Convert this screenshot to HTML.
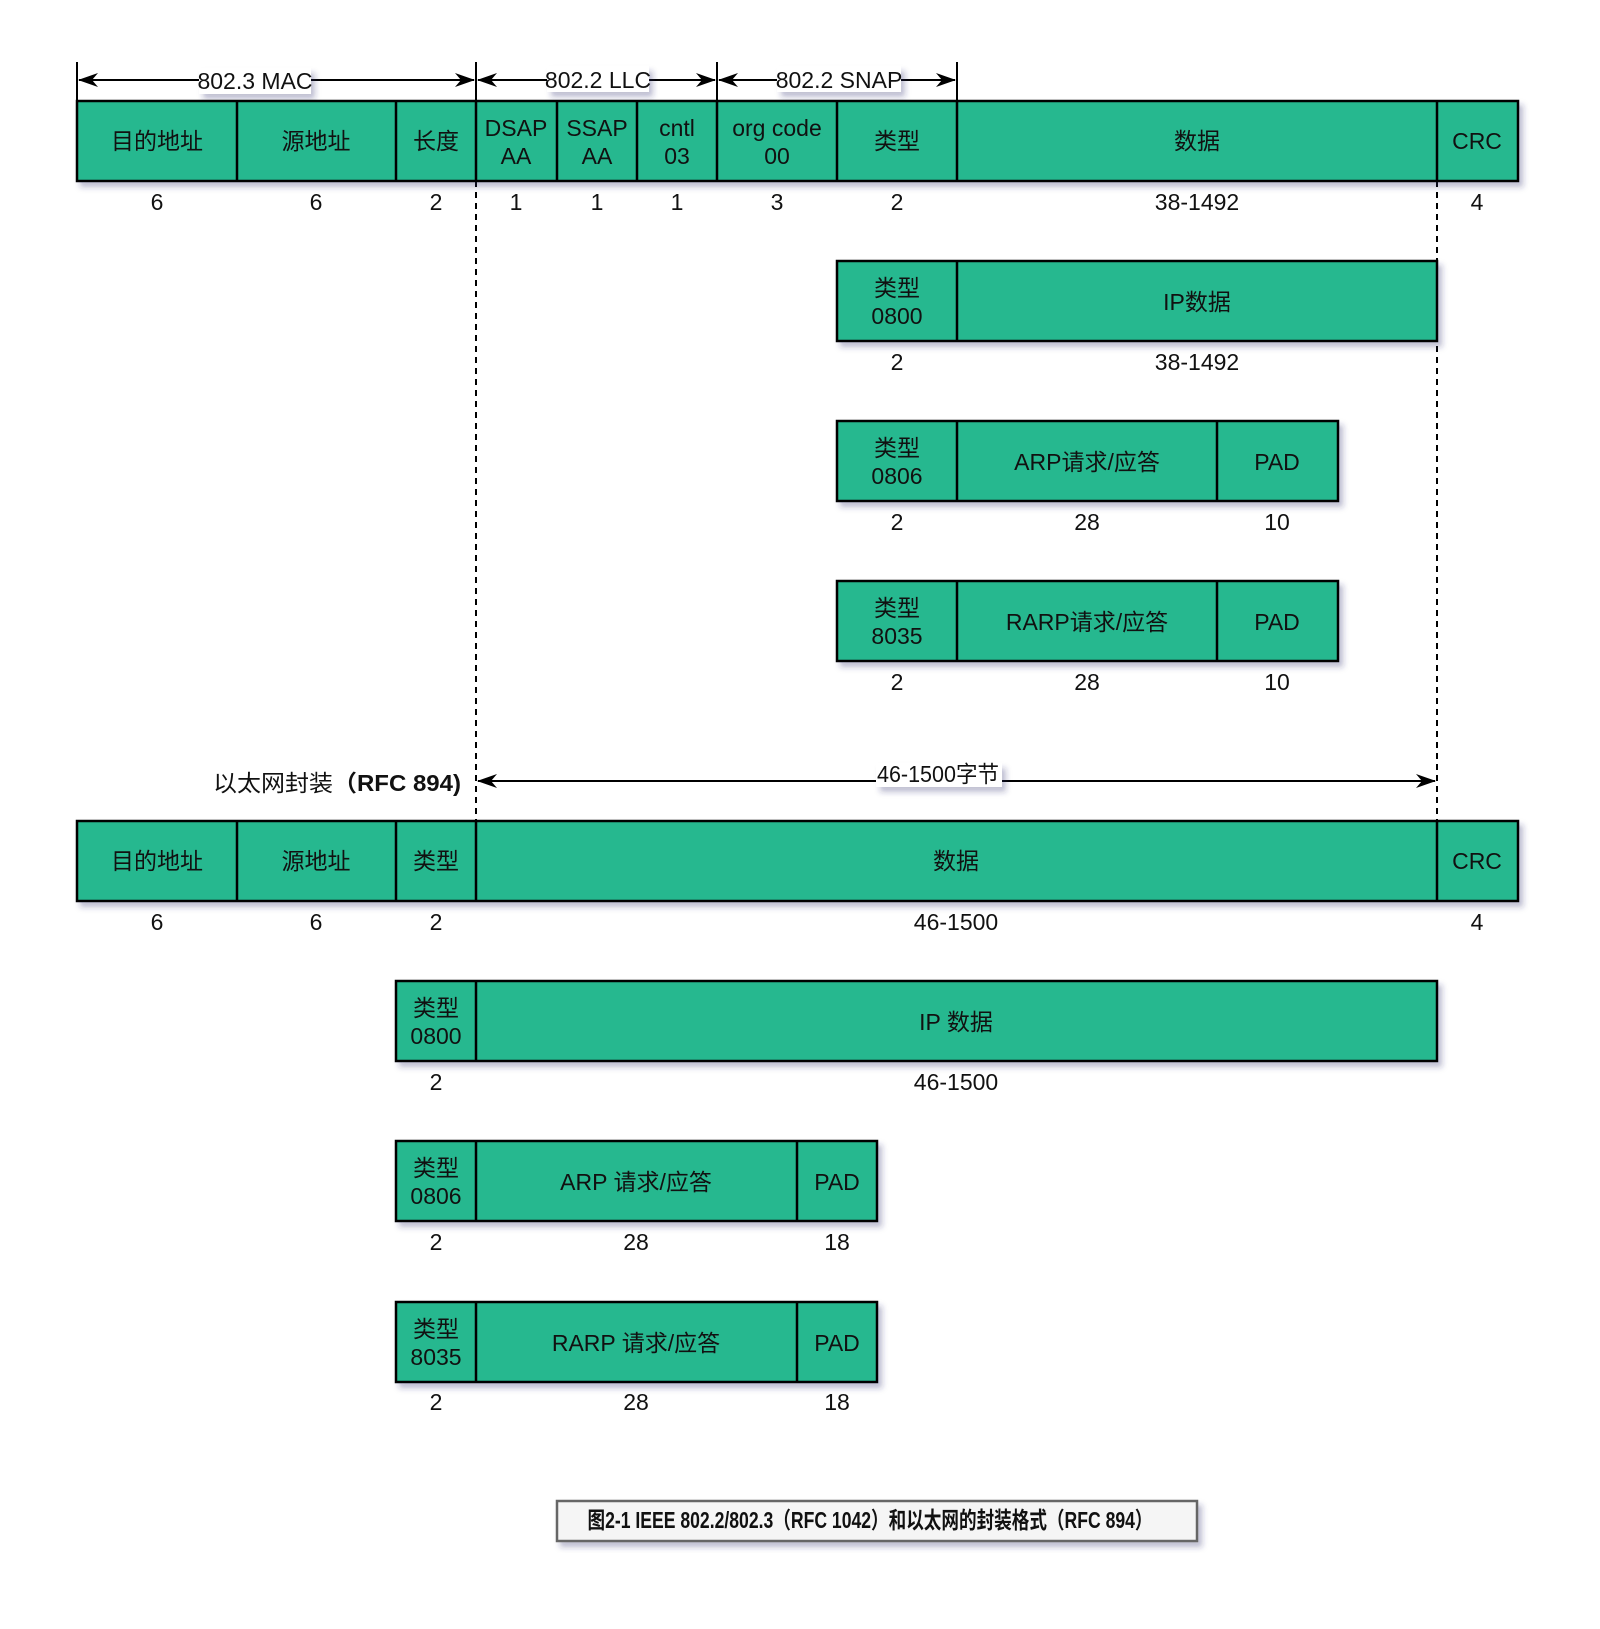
<!DOCTYPE html>
<html><head><meta charset="utf-8"><style>
html,body{margin:0;padding:0;background:#fff;}
svg text{font-family:"Liberation Sans","Noto Sans CJK SC",sans-serif;font-size:23px;fill:#111;}
</style></head><body>
<svg width="1600" height="1624" viewBox="0 0 1600 1624" xmlns="http://www.w3.org/2000/svg">
<defs>
<filter id="sh" x="-5%" y="-20%" width="115%" height="150%">
<feGaussianBlur in="SourceAlpha" stdDeviation="3"/>
<feOffset dx="4" dy="5" result="b"/>
<feFlood flood-color="#2a2a6a" flood-opacity="0.3"/>
<feComposite in2="b" operator="in"/>
<feMerge><feMergeNode/><feMergeNode in="SourceGraphic"/></feMerge>
</filter>
<marker id="ar" markerWidth="20" markerHeight="14" refX="19" refY="7" orient="auto-start-reverse" markerUnits="userSpaceOnUse">
<path d="M0,0 L20,7 L0,14 L6,7 Z" fill="#000"/>
</marker>
</defs>

<line x1="476" y1="181" x2="476" y2="821" stroke="#000" stroke-width="2" stroke-dasharray="6,5"/>
<line x1="1437" y1="181" x2="1437" y2="821" stroke="#000" stroke-width="2" stroke-dasharray="6,5"/>

<g stroke="#000" stroke-width="2">
<line x1="77" y1="62" x2="77" y2="101"/>
<line x1="476" y1="62" x2="476" y2="101"/>
<line x1="717" y1="62" x2="717" y2="101"/>
<line x1="957" y1="62" x2="957" y2="101"/>
<line x1="79" y1="80" x2="474" y2="80" marker-start="url(#ar)" marker-end="url(#ar)"/>
<line x1="478" y1="80" x2="715" y2="80" marker-start="url(#ar)" marker-end="url(#ar)"/>
<line x1="719" y1="80" x2="955" y2="80" marker-start="url(#ar)" marker-end="url(#ar)"/>
<line x1="478" y1="781" x2="1435" y2="781" marker-start="url(#ar)" marker-end="url(#ar)"/>
</g>
<g filter="url(#sh)">
<rect x="199" y="68" width="112" height="26" fill="#fff"/>
<rect x="547" y="66" width="102" height="26" fill="#fff"/>
<rect x="777" y="66" width="124" height="26" fill="#fff"/>
<rect x="876" y="763" width="126" height="24" fill="#fff"/>
</g>
<text x="255" y="89" text-anchor="middle" font-size="21">802.3 MAC</text>
<text x="598" y="88" text-anchor="middle" font-size="21">802.2 LLC</text>
<text x="839" y="88" text-anchor="middle" font-size="21">802.2 SNAP</text>
<text x="938" y="782" text-anchor="middle" font-size="20" textLength="122" lengthAdjust="spacingAndGlyphs">46-1500字节</text>
<text x="461" y="791" text-anchor="end" textLength="248" lengthAdjust="spacingAndGlyphs">以太网封装<tspan font-weight="bold">（RFC 894)</tspan></text>

<g fill="#27b88f" stroke="#000" stroke-width="2.5" filter="url(#sh)">
<rect x="77" y="101" width="1441" height="80"/>
<rect x="837" y="261" width="600" height="80"/>
<rect x="837" y="421" width="501" height="80"/>
<rect x="837" y="581" width="501" height="80"/>
<rect x="77" y="821" width="1441" height="80"/>
<rect x="396" y="981" width="1041" height="80"/>
<rect x="396" y="1141" width="481" height="80"/>
<rect x="396" y="1302" width="481" height="80"/>
</g>
<g stroke="#000" stroke-width="2.5">
<line x1="237" y1="101" x2="237" y2="181"/><line x1="396" y1="101" x2="396" y2="181"/>
<line x1="476" y1="101" x2="476" y2="181"/><line x1="557" y1="101" x2="557" y2="181"/>
<line x1="637" y1="101" x2="637" y2="181"/><line x1="717" y1="101" x2="717" y2="181"/>
<line x1="837" y1="101" x2="837" y2="181"/><line x1="957" y1="101" x2="957" y2="181"/>
<line x1="1437" y1="101" x2="1437" y2="181"/>
<line x1="957" y1="261" x2="957" y2="341"/>
<line x1="957" y1="421" x2="957" y2="501"/><line x1="1217" y1="421" x2="1217" y2="501"/>
<line x1="957" y1="581" x2="957" y2="661"/><line x1="1217" y1="581" x2="1217" y2="661"/>
<line x1="237" y1="821" x2="237" y2="901"/><line x1="396" y1="821" x2="396" y2="901"/>
<line x1="476" y1="821" x2="476" y2="901"/><line x1="1437" y1="821" x2="1437" y2="901"/>
<line x1="476" y1="981" x2="476" y2="1061"/>
<line x1="476" y1="1141" x2="476" y2="1221"/><line x1="797" y1="1141" x2="797" y2="1221"/>
<line x1="476" y1="1302" x2="476" y2="1382"/><line x1="797" y1="1302" x2="797" y2="1382"/>
</g>

<g text-anchor="middle">
<text x="157" y="149">目的地址</text><text x="316" y="149">源地址</text><text x="436" y="149">长度</text>
<text x="516" y="136">DSAP</text><text x="516" y="164">AA</text>
<text x="597" y="136">SSAP</text><text x="597" y="164">AA</text>
<text x="677" y="136">cntl</text><text x="677" y="164">03</text>
<text x="777" y="136">org code</text><text x="777" y="164">00</text>
<text x="897" y="149">类型</text><text x="1197" y="149">数据</text><text x="1477" y="149">CRC</text>
<text x="157" y="210">6</text><text x="316" y="210">6</text><text x="436" y="210">2</text>
<text x="516" y="210">1</text><text x="597" y="210">1</text><text x="677" y="210">1</text>
<text x="777" y="210">3</text><text x="897" y="210">2</text><text x="1197" y="210">38-1492</text><text x="1477" y="210">4</text>
<text x="897" y="296">类型</text><text x="897" y="324">0800</text><text x="1197" y="310">IP数据</text>
<text x="897" y="370">2</text><text x="1197" y="370">38-1492</text>
<text x="897" y="456">类型</text><text x="897" y="484">0806</text><text x="1087" y="470">ARP请求/应答</text><text x="1277" y="470">PAD</text>
<text x="897" y="530">2</text><text x="1087" y="530">28</text><text x="1277" y="530">10</text>
<text x="897" y="616">类型</text><text x="897" y="644">8035</text><text x="1087" y="630">RARP请求/应答</text><text x="1277" y="630">PAD</text>
<text x="897" y="690">2</text><text x="1087" y="690">28</text><text x="1277" y="690">10</text>
<text x="157" y="869">目的地址</text><text x="316" y="869">源地址</text><text x="436" y="869">类型</text>
<text x="956" y="869">数据</text><text x="1477" y="869">CRC</text>
<text x="157" y="930">6</text><text x="316" y="930">6</text><text x="436" y="930">2</text><text x="956" y="930">46-1500</text><text x="1477" y="930">4</text>
<text x="436" y="1016">类型</text><text x="436" y="1044">0800</text><text x="956" y="1030">IP 数据</text>
<text x="436" y="1090">2</text><text x="956" y="1090">46-1500</text>
<text x="436" y="1176">类型</text><text x="436" y="1204">0806</text><text x="636" y="1190">ARP 请求/应答</text><text x="837" y="1190">PAD</text>
<text x="436" y="1250">2</text><text x="636" y="1250">28</text><text x="837" y="1250">18</text>
<text x="436" y="1337">类型</text><text x="436" y="1365">8035</text><text x="636" y="1351">RARP 请求/应答</text><text x="837" y="1351">PAD</text>
<text x="436" y="1410">2</text><text x="636" y="1410">28</text><text x="837" y="1410">18</text>
</g>

<rect x="557" y="1501" width="640" height="40" fill="#f5f5f5" stroke="#666" stroke-width="2.5" filter="url(#sh)"/>
<text x="870" y="1528" text-anchor="middle" font-size="17" font-weight="bold" textLength="565" lengthAdjust="spacingAndGlyphs">图2-1 IEEE 802.2/802.3（RFC 1042）和以太网的封装格式（RFC 894）</text>
</svg>
</body></html>
